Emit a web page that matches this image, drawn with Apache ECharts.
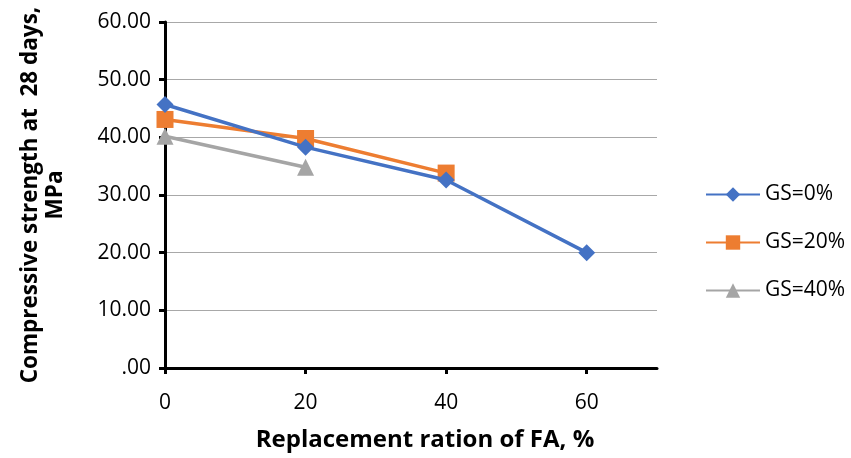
<!DOCTYPE html>
<html>
<head>
<meta charset="utf-8">
<script src="https://cdn.jsdelivr.net/npm/echarts@6/dist/echarts.min.js"></script>
<style>
  html, body { margin: 0; padding: 0; background: #fff; }
  #chart { width: 851px; height: 458px; }
</style>
</head>
<body>
<div id="chart"></div>
<script>
// replacement ratio of FA, %
const faRatio = [0, 20, 40, 60];
// compressive strength at 28 days, MPa
const gs0 = [45.7, 38.3, 32.6, 20.0];
const gs20 = [43.1, 39.8, 33.8];
const gs40 = [40.2, 34.8];
const seriesNames = ['GS=0%', 'GS=20%', 'GS=40%'];
const colors = ['#4472C4', '#ED7D31', '#A5A5A5'];
const symbols = ['diamond', 'rect', 'triangle'];

const font = '"Open Sans", "Noto Sans", sans-serif';
const chart = echarts.init(document.getElementById('chart'));

function pairs(vals) {
    return vals.map((v, i) => [faRatio[i], v]);
}

const titleStyle = { fontFamily: font, fontSize: 22.5, fontWeight: 'bold', color: '#000', lineHeight: 25 };

const option = {
    animation: false,
    color: colors,
    grid: { left: 165, top: 22, width: 492, height: 346, containLabel: false },
    legend: {
        orient: 'vertical',
        left: 700,
        top: 179,
        itemGap: 27,
        itemWidth: 54,
        itemHeight: 18,
        textStyle: { fontFamily: font, fontSize: 21, color: '#000' },
        data: seriesNames
    },
    xAxis: {
        type: 'value',
        min: 0,
        max: 70,
        interval: 20,
        name: 'Replacement ration of FA, %',
        nameLocation: 'middle',
        nameGap: 60,
        nameTextStyle: {
            fontFamily: font, fontSize: 24, fontWeight: 'bold', color: '#000',
            padding: [0, 0, 0, 28]
        },
        axisLine: { show: true, lineStyle: { color: '#000', width: 3 } },
        axisTick: { show: true, length: 6, lineStyle: { color: '#000', width: 3 }, customValues: faRatio },
        axisLabel: { fontFamily: font, fontSize: 21, color: '#000', margin: 25, customValues: faRatio },
        splitLine: { show: false }
    },
    yAxis: {
        type: 'value',
        min: 0,
        max: 60,
        interval: 10,
        name: '{t|Compressive strength at  28 days,}\n{t|MPa}',
        nameLocation: 'middle',
        nameRotate: 90,
        nameGap: 97,
        nameTextStyle: Object.assign({ rich: { t: titleStyle } }, titleStyle),
        axisLine: { show: true, lineStyle: { color: '#000', width: 3 } },
        axisTick: { show: true, length: 6, lineStyle: { color: '#000', width: 3 } },
        axisLabel: {
            fontFamily: font, fontSize: 21, color: '#000', margin: 14,
            formatter: v => v === 0 ? '.00' : v.toFixed(2)
        },
        splitLine: { show: true, lineStyle: { color: '#a8a8a8', width: 1 } }
    },
    series: [gs0, gs20, gs40].map((vals, i) => ({
        name: seriesNames[i],
        type: 'line',
        data: pairs(vals),
        symbol: symbols[i],
        symbolSize: 17,
        lineStyle: { width: 3.5, color: colors[i] },
        itemStyle: { color: colors[i] },
        z: 10 - i
    }))
};
chart.setOption(option);
</script>
</body>
</html>
